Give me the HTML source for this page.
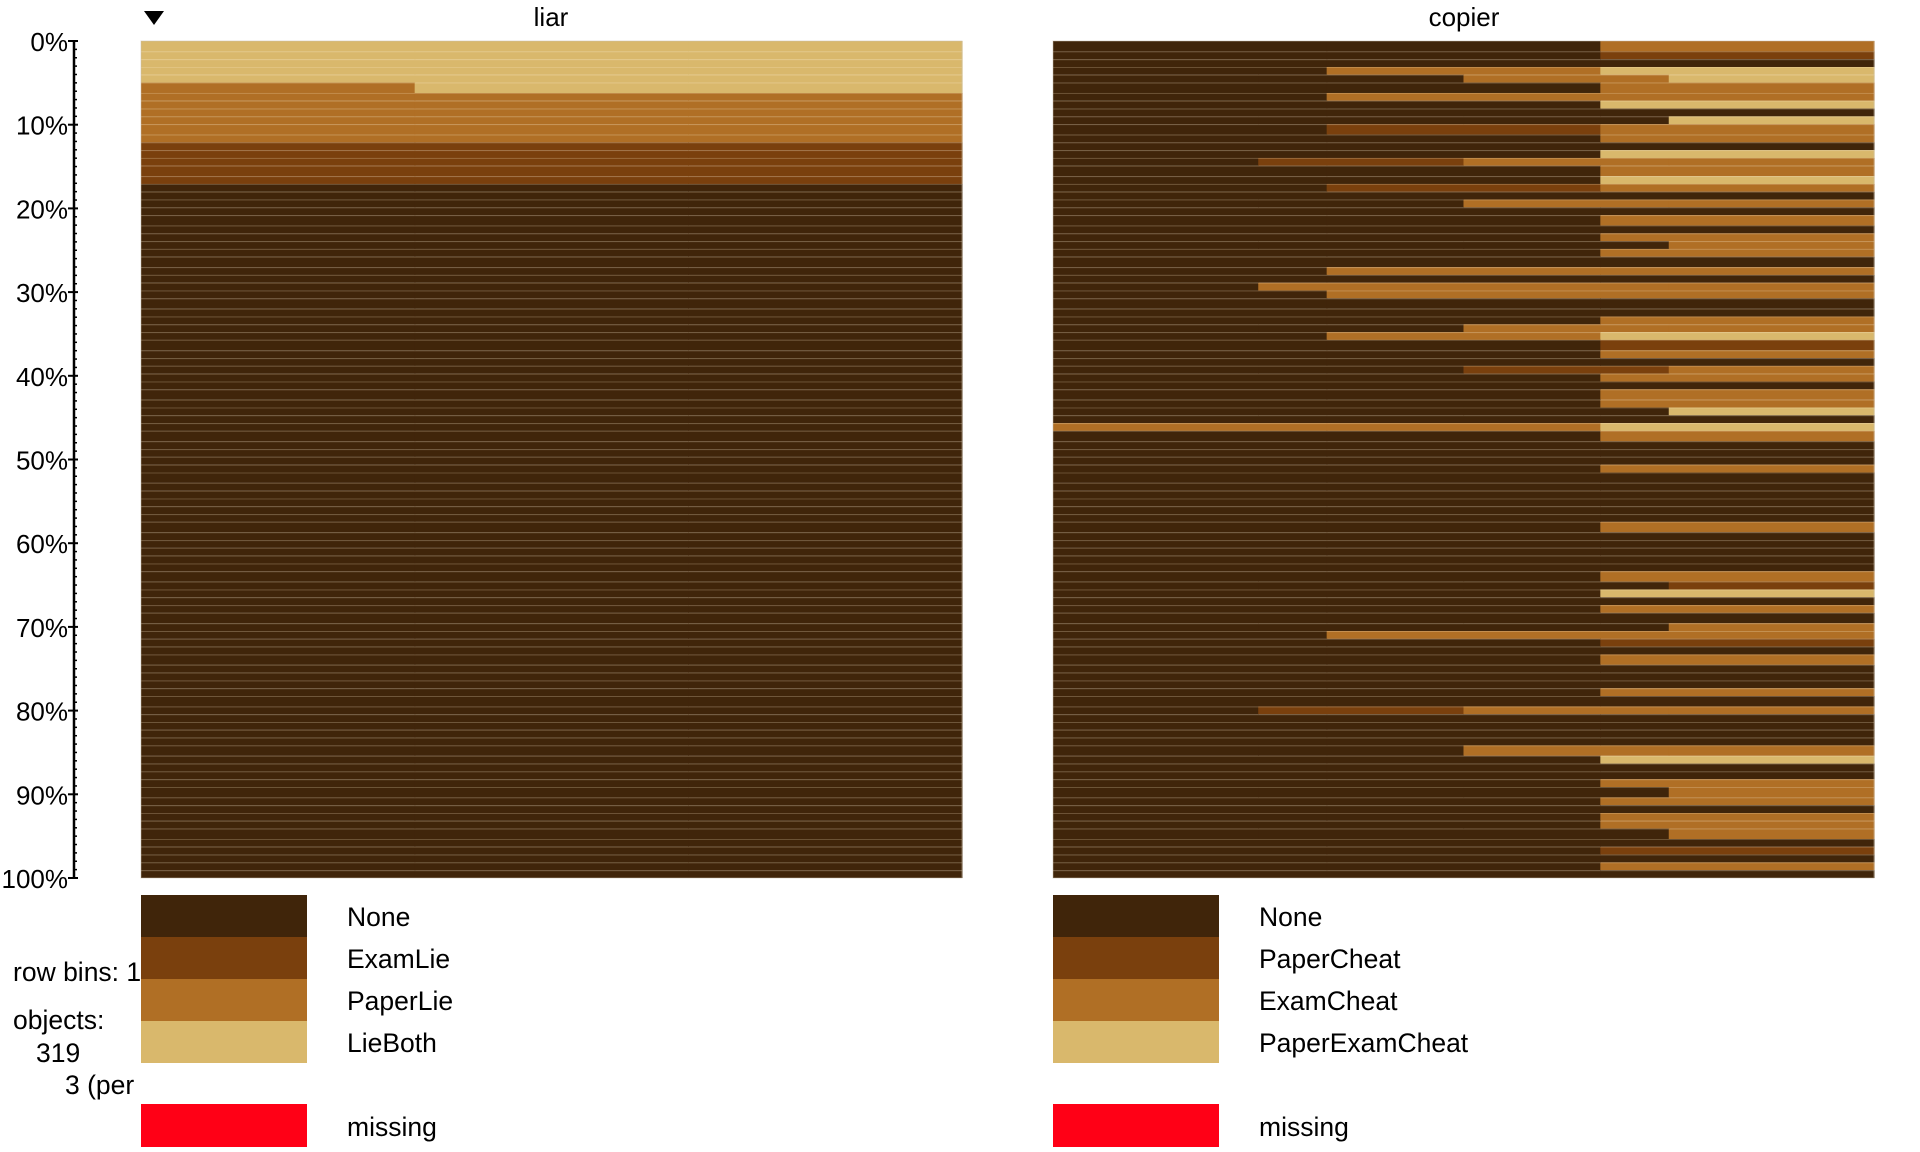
<!DOCTYPE html>
<html><head><meta charset="utf-8"><style>
html,body{margin:0;padding:0;background:#fff;}
svg{display:block;font-family:"Liberation Sans",sans-serif;}
</style></head><body>
<svg id="chart" width="1920" height="1152" viewBox="0 0 1920 1152" xmlns="http://www.w3.org/2000/svg">
<g id="axis"></g>
<g id="liarPlot"></g>
<g id="copierPlot"></g>
<path d="M144,11 L164,11 L154,25 Z" fill="#000"/>
<text x="551" y="26" font-size="26" text-anchor="middle">liar</text>
<text x="1464" y="26" font-size="26" text-anchor="middle">copier</text>
<g id="legends"></g>
<g font-size="26.5">
<clipPath id="clipInfo"><rect x="0" y="940" width="141" height="212"/></clipPath>
<g clip-path="url(#clipInfo)">
<text x="13" y="981">row bins: 100</text>
<text x="13" y="1029">objects:</text>
<text x="36" y="1062">319</text>
<text x="65" y="1094">3 (per bin)</text>
</g></g>
</svg>
<script>
// ---- data ----
const sizes = [4,3,3,3,3,4,3,3,3,3,4,3,3,3,3,4,3,3,3,3,3,4,3,3,3,3,4,3,3,3,3,4,3,3,3,3,4,3,3,3,3,3,4,3,3,3,3,4,
3,3,3,3,4,3,3,3,3,3,4,3,3,3,3,3,4,3,3,3,3,4,3,3,3,3,4,3,3,3,3,4,3,3,3,3,3,4,3,3,3,3,4,3,3,3,3,4,3,3,3,3,3];
const liarBins = ["LLL","LLL","LLL","LLL","LLL","PLL","PPP","PPP","PPP","PPP","PPP","PPP","XXX","XXX","XXX","XXX","XXX"];
const copierBins = ["NNE","NNP","NNN","NEB","NNEB","NNE","NEE","NNB","NNN","NNNB","NPE","NNE","NNN","NNB","NPEE","NNE","NNB","NPE","NNN","NNEE",
"NNN","NNE","NNN","NNE","NNNE","NNE","NNN","NEE","NNN","NEEE","NEE","NNN","NNN","NNE","NNEE","NEB","NNP","NNE","NNN","NNPE",
"NNE","NNN","NNE","NNE","NNNB","NNN","EEB","NNE","NNN","NNN","NNN","NNE","NNN","NNN","NNN","NNN","NNN","NNN","NNE","NNN",
"NNN","NNN","NNN","NNN","NNE","NNNP","NNB","NNN","NNE","NNN","NNNE","NEE","NNP","NNN","NNE","NNN","NNN","NNN","NNE","NNN",
"NPEE","NNN","NNN","NNN","NNN","NNEE","NNB","NNN","NNN","NNE","NNNE","NNE","NNN","NNE","NNE","NNNE","NNN","NNP","NNN","NNE","NNN"];
const liarColors = {N:"#40250a",X:"#7a400d",P:"#b06f25",L:"#d9b86c"};
const copierColors = {N:"#40250a",P:"#7a400d",E:"#b06f25",B:"#d9b86c"};
const liarLegend = ["None","ExamLie","PaperLie","LieBoth"];
const copierLegend = ["None","PaperCheat","ExamCheat","PaperExamCheat"];
const tickLabels = ["0%","10%","20%","30%","40%","50%","60%","70%","80%","90%","100%"];
// ---- layout ----
const NS="http://www.w3.org/2000/svg";
const top0=41, bot0=878;
const total = sizes.reduce((a,b)=>a+b,0);
function yScale(u){return top0+(bot0-top0)*u/total;}
function mk(tag,attrs,parent){const e=document.createElementNS(NS,tag);for(const k in attrs)e.setAttribute(k,attrs[k]);parent.appendChild(e);return e;}
function drawColumn(g,bins,colors,x0,x1){
  let cum=0;
  for(let i=0;i<sizes.length;i++){
    const codes = i<bins.length ? bins[i] : "NNN";
    const ya=yScale(cum), yb=yScale(cum+sizes[i]); cum+=sizes[i];
    const w=(x1-x0)/codes.length;
    for(let j=0;j<codes.length;j++){
      const r=mk('rect',{x:x0+j*w,y:ya,width:w+0.6,height:yb-ya,fill:colors[codes[j]]},g);
      
      
    }
    if(i>0){const l=mk('line',{x1:x0,x2:x1,y1:ya+0.5,y2:ya+0.5,stroke:"rgba(255,235,200,0.22)","stroke-width":1},g);
      
      }
  }
  const b=mk('rect',{x:x0,y:top0,width:x1-x0,height:bot0-top0,fill:"none",stroke:"rgba(200,190,170,0.5)","stroke-width":1},g);
  
  
}
drawColumn(document.getElementById('liarPlot'),liarBins,liarColors,141,962);
drawColumn(document.getElementById('copierPlot'),copierBins,copierColors,1053,1874);
// axis
const ax=document.getElementById('axis');
const al=mk('line',{x1:74,x2:74,y1:top0,y2:bot0,stroke:"#000","stroke-width":2.5},ax);


for(let k=0;k<=100;k++){
  const y=top0+(bot0-top0)*k/100;
  const major=k%10===0;
  const t=mk('line',{x1:major?68:74,x2:major?78:77,y1:y,y2:y,stroke:"#000","stroke-width":major?2:1.5},ax);
  
  
}
tickLabels.forEach((s,i)=>{
  const y=top0+(bot0-top0)*i/(tickLabels.length-1);
  const t=mk('text',{x:68,y:y+10,"font-size":26,"text-anchor":"end"},ax);
  t.textContent=s;
  
  
});
// legends
const lg=document.getElementById('legends');
function drawLegend(names,colors,x0){
  const keys=Object.keys(colors);
  names.forEach((n,i)=>{
    const y=895+i*42;
    const r=mk('rect',{x:x0,y:y,width:166,height:42,fill:colors[keys[i]]},lg);
    
    
    const t=mk('text',{x:x0+206,y:y+31,"font-size":26.5},lg);
    t.textContent=n;
    
    
  });
  const m=mk('rect',{x:x0,y:1104,width:166,height:43,fill:"#ff0016"},lg);
  
  
  const mt=mk('text',{x:x0+206,y:1136,"font-size":26.5},lg);
  mt.textContent="missing";
  
  
}
drawLegend(liarLegend,liarColors,141);
drawLegend(copierLegend,copierColors,1053);
</script>
</body></html>
